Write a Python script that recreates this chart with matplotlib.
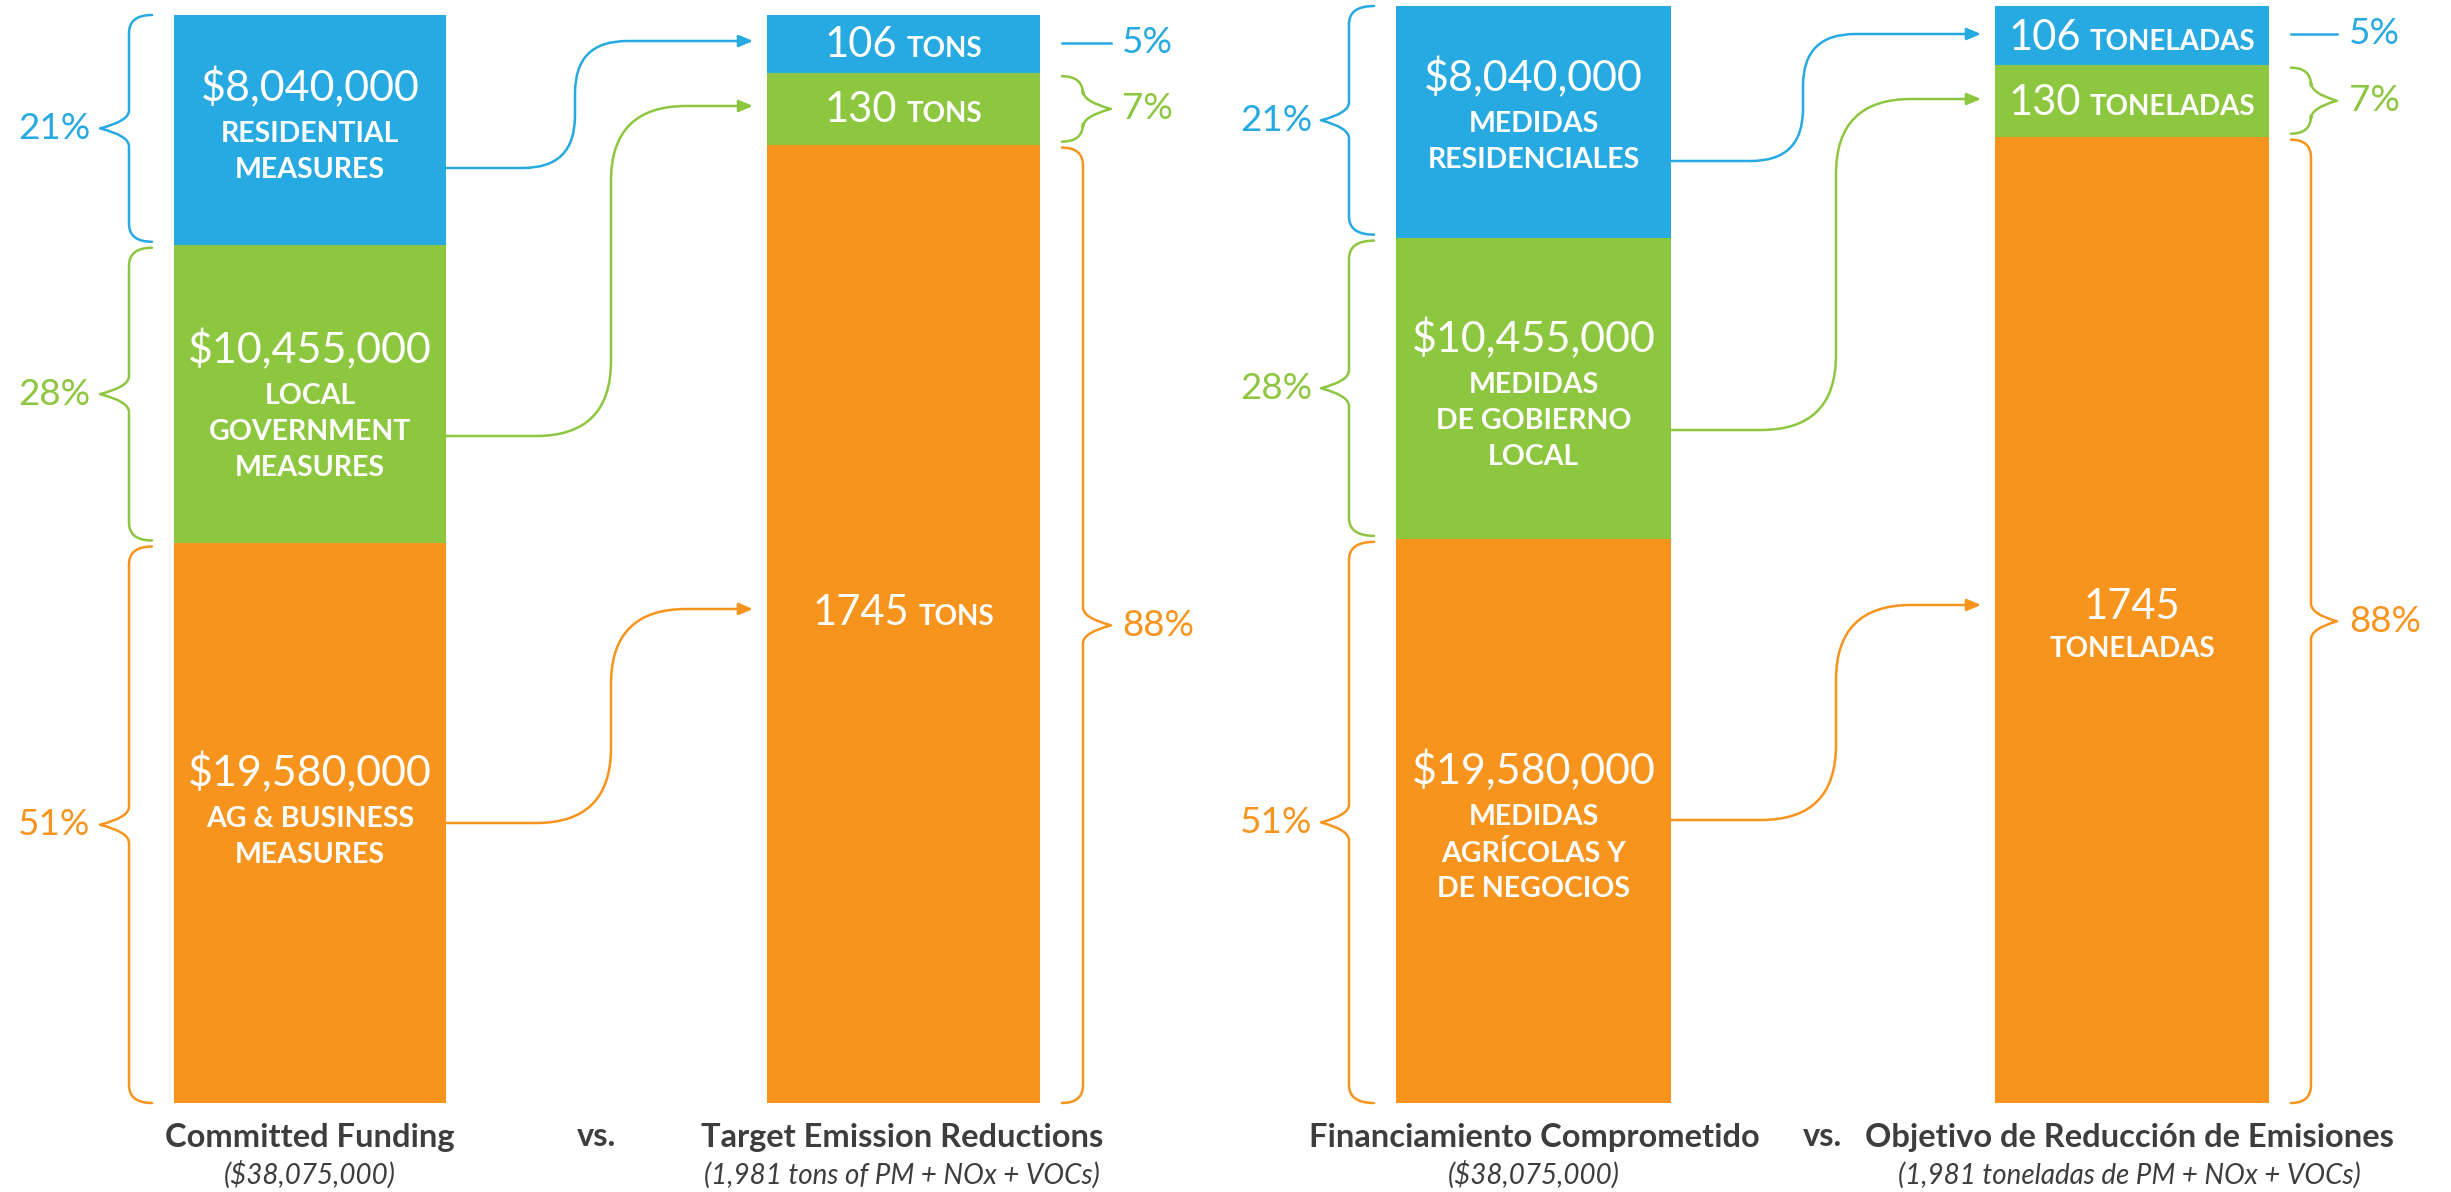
import matplotlib
matplotlib.use("Agg")
import matplotlib.pyplot as plt
from matplotlib.path import Path
from matplotlib.patches import PathPatch, FancyArrowPatch

# ---- data ----
funding_values = [8040000, 10455000, 19580000]
funding_amounts = ["$8,040,000", "$10,455,000", "$19,580,000"]
funding_pct = ["21%", "28%", "51%"]
tons_values = [106, 130, 1745]
tons_pct = ["5%", "7%", "88%"]
colors = ["#27A9E1", "#8DC63F", "#F7941D"]

labels_en = ["RESIDENTIAL\nMEASURES", "LOCAL\nGOVERNMENT\nMEASURES", "AG & BUSINESS\nMEASURES"]
labels_es = ["MEDIDAS\nRESIDENCIALES", "MEDIDAS\nDE GOBIERNO\nLOCAL", "MEDIDAS\nAGRÍCOLAS Y\nDE NEGOCIOS"]
unit_en = "TONS"
unit_es = "TONELADAS"
titles_en = ["Committed Funding", "Target Emission Reductions"]
subtitles_en = ["($38,075,000)", "(1,981 tons of PM + NOx + VOCs)"]
titles_es = ["Financiamiento Comprometido", "Objetivo de Reducción de Emisiones"]
subtitles_es = ["($38,075,000)", "(1,981 toneladas de PM + NOx + VOCs)"]

W, H = 2451, 1192
FONT = "Lato"
LIGHT = ["Lato Light", "Lato"]
TITLE_C = "#3d3d3d"

fig = plt.figure(figsize=(W / 100, H / 100), dpi=100)
fig.patch.set_facecolor("white")

panels = [
    dict(labels=labels_en, unit=unit_en, titles=titles_en, subs=subtitles_en,
         top=15, bottom=1103, c1=310, w1=272, c2=903.5, w2=273,
         lb=(100, 129, 152), pl=90, rb=(1062, 1083, 1111), pr=1122,
         amt_y=[88, 350, 773], starts=[168, 436, 823], vx=[575, 611, 611],
         ends=[41, 106, 609], tip=753, stack_last=False, vs=596,
         title_x=[310, 902]),
    dict(labels=labels_es, unit=unit_es, titles=titles_es, subs=subtitles_es,
         top=6, bottom=1103, c1=1533.5, w1=275, c2=2132, w2=274,
         lb=(1321, 1349, 1374), pl=1312, rb=(2291, 2311, 2337), pr=2349,
         amt_y=[78, 339, 771], starts=[161, 430, 820], vx=[1803, 1836, 1836],
         ends=[34, 99, 605], tip=1981, stack_last=True, vs=1822,
         title_x=[1534, 2129]),
]
radii = [52, 75, 75]

# overlay axes in pixel units for text and decorations
pix = fig.add_axes([0, 0, 1, 1], zorder=5)
pix.set_xlim(0, W)
pix.set_ylim(H, 0)
pix.axis("off")

renderer = fig.canvas.get_renderer()


def brace(y0, y1, xs, xe, xt, color, r=18):
    ym = (y0 + y1) / 2
    verts = [(xe, y0), (xs, y0), (xs, y0 + r),
             (xs, ym - r), (xs, ym - r * 0.4), (xt, ym),
             (xs, ym + r * 0.4), (xs, ym + r),
             (xs, y1 - r), (xs, y1), (xe, y1)]
    codes = [Path.MOVETO, Path.CURVE3, Path.CURVE3,
             Path.LINETO, Path.CURVE3, Path.CURVE3,
             Path.CURVE3, Path.CURVE3,
             Path.LINETO, Path.CURVE3, Path.CURVE3]
    pix.add_patch(PathPatch(Path(verts, codes), fill=False, ec=color, lw=1.8,
                            capstyle="round", joinstyle="round"))
    return ym


def connector(x0, ys, xv, ye, xtip, color, r):
    verts = [(x0, ys), (xv - r, ys), (xv, ys), (xv, ys - r),
             (xv, ye + r), (xv, ye), (xv + r, ye), (xtip, ye)]
    codes = [Path.MOVETO, Path.LINETO, Path.CURVE3, Path.CURVE3,
             Path.LINETO, Path.CURVE3, Path.CURVE3, Path.LINETO]
    pix.add_patch(FancyArrowPatch(path=Path(verts, codes),
                                  arrowstyle="-|>,head_length=8.5,head_width=3.6",
                                  color=color, lw=1.8, mutation_scale=1))


def inline(cx, y, num, unit, nsize=30, usize=20, gap=9):
    t1 = pix.text(0, y, num, fontsize=nsize, family=LIGHT,
                  color="white", ha="left", va="baseline")
    t2 = pix.text(0, y, unit, fontsize=usize, family=FONT, weight="bold",
                  color="white", ha="left", va="baseline")
    w1 = t1.get_window_extent(renderer).width
    w2 = t2.get_window_extent(renderer).width
    x = cx - (w1 + gap + w2) / 2
    t1.set_x(x)
    t2.set_x(x + w1 + gap)


for p in panels:
    top, bottom = p["top"], p["bottom"]
    span = bottom - top
    bax = fig.add_axes([0, 1 - bottom / H, 1, span / H], zorder=1)
    bax.set_xlim(0, W)
    bax.set_ylim(1, 0)
    bax.axis("off")

    fshare = [v / sum(funding_values) for v in funding_values]
    tshare = [v / sum(tons_values) for v in tons_values]
    fcum = [sum(fshare[:i]) for i in range(3)]
    tcum = [sum(tshare[:i]) for i in range(3)]
    bax.bar([p["c1"]] * 3, fshare, bottom=fcum, width=p["w1"], color=colors, linewidth=0)
    bax.bar([p["c2"]] * 3, tshare, bottom=tcum, width=p["w2"], color=colors, linewidth=0)

    x1r = p["c1"] + p["w1"] / 2
    for i in range(3):
        # left braces + percentages
        y0 = top + fcum[i] * span + (3 if i > 0 else 0)
        y1 = top + (fcum[i] + fshare[i]) * span - (3 if i < 2 else 0)
        xt, xs, xe = p["lb"]
        ym = brace(y0, y1, xs, xe, xt, colors[i])
        pix.text(p["pl"], ym, funding_pct[i], fontsize=26.5, family=LIGHT,
                 color=colors[i], ha="right", va="center")

        # right braces + percentages
        y0 = top + tcum[i] * span + (3 if i > 0 else 0)
        y1 = top + (tcum[i] + tshare[i]) * span - (3 if i < 2 else 0)
        xe, xs, xt = p["rb"]
        if i == 0:
            ym = (y0 + y1) / 2
            pix.plot([xe, xt], [ym, ym], color=colors[i], lw=1.8)
        else:
            ym = brace(y0, y1, xs, xe, xt, colors[i])
        pix.text(p["pr"], ym, tons_pct[i], fontsize=26.5, family=LIGHT,
                 color=colors[i], ha="left", va="center")

        # text inside funding bar
        ya = p["amt_y"][i]
        pix.text(p["c1"], ya, funding_amounts[i], fontsize=31, family=LIGHT,
                 color="white", ha="center", va="center")
        for j, line in enumerate(p["labels"][i].split("\n")):
            pix.text(p["c1"], ya + 46 + 36 * j, line, fontsize=20.5, family=FONT,
                     weight="bold", color="white", ha="center", va="center")

        # connectors
        connector(x1r, p["starts"][i], p["vx"][i], p["ends"][i], p["tip"],
                  colors[i], radii[i])

        # text inside tons bar
        ye = p["ends"][i]
        if i == 2 and p["stack_last"]:
            pix.text(p["c2"], ye + 2, str(tons_values[i]), fontsize=30, family=LIGHT,
                     color="white", ha="center", va="center")
            pix.text(p["c2"], ye + 44, p["unit"], fontsize=20, family=FONT,
                     weight="bold", color="white", ha="center", va="center")
        else:
            inline(p["c2"], ye + 16, str(tons_values[i]), p["unit"])

    # titles
    for k in range(2):
        pix.text(p["title_x"][k], 1137, p["titles"][k], fontsize=23.5, family=FONT,
                 weight="bold", color=TITLE_C, ha="center", va="center")
        pix.text(p["title_x"][k], 1175, p["subs"][k], fontsize=20, family=FONT,
                 style="italic", color=TITLE_C, ha="center", va="center")
    pix.text(p["vs"], 1137, "vs.", fontsize=23.5, family=FONT, weight="bold",
             color=TITLE_C, ha="center", va="center")

fig.savefig("out.png", dpi=100, facecolor="white")
